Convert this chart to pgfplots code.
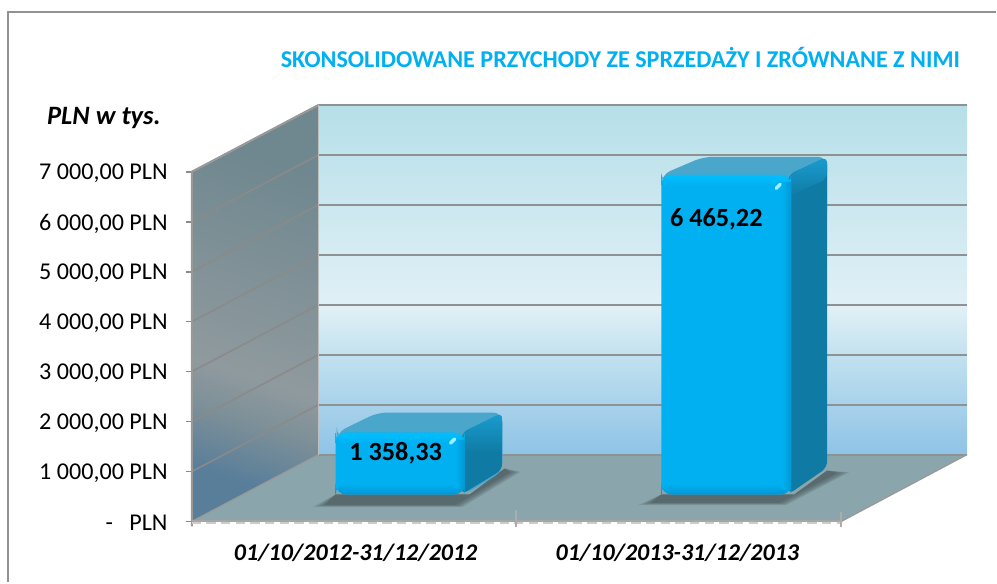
\documentclass[border=0pt]{standalone}
\usepackage{pgfplots}
\usepackage{fontspec}
\setmainfont{Carlito}
\pgfplotsset{compat=1.18}
\definecolor{bwa}{HTML}{B6DFE9}
\definecolor{bwb}{HTML}{E0F0F6}
\definecolor{bwb2}{HTML}{D8ECF3}
\definecolor{bwc}{HTML}{BBDDEE}
\definecolor{bwd}{HTML}{8FC3E6}
\definecolor{swa}{HTML}{6F878F}
\definecolor{swb}{HTML}{8F9A9E}
\definecolor{swc}{HTML}{7E9098}
\definecolor{swd}{HTML}{587E9A}
\definecolor{floorc}{HTML}{8AA6AC}
\definecolor{gridc}{HTML}{8E9292}
\definecolor{wallgrid}{HTML}{8A8A8A}
\definecolor{framec}{HTML}{929292}
\definecolor{barfront}{HTML}{00B0F0}
\definecolor{barhi}{HTML}{00C0FF}
\definecolor{barlo}{HTML}{0096D6}
\definecolor{barright}{HTML}{0098D4}
\definecolor{bartop}{HTML}{4BA6CB}
\definecolor{barside}{HTML}{0F7AA3}
\definecolor{barsideL}{HTML}{1A9DD0}
\definecolor{titlec}{HTML}{00B0F0}
\definecolor{spot}{HTML}{A0F0FF}
\pgfdeclareverticalshading{backwall}{100bp}{
 color(0bp)=(bwd); color(25bp)=(bwd); color(37.5bp)=(bwc); color(46bp)=(bwb); color(52.5bp)=(bwb2); color(75bp)=(bwa); color(100bp)=(bwa)}
\pgfdeclareverticalshading{sidewall}{100bp}{
 color(0bp)=(swd); color(26bp)=(swd); color(35bp)=(swc); color(41bp)=(swb); color(72bp)=(swa); color(100bp)=(swa)}
% vertical axis: value = (522 - pixel row) * 20
\begin{document}
\begin{tikzpicture}[x=0.75pt,y=0.75pt]
\path (0,0) rectangle (997,583);
\draw[color=framec,line width=1.5pt] (8,0) -- (8,571) -- (997,571);
\begin{axis}[
  at={(144pt,45.75pt)}, anchor=south west,
  scale only axis, width=487.5pt, height=262.5pt,
  xmin=192, xmax=842, ymin=0, ymax=7000,
  clip=false, axis line style={draw=none},
  xtick=\empty,
  ytick={0,1000,2000,3000,4000,5000,6000,7000},
  yticklabels={{-\ \ \ PLN},{1 000,00 PLN},{2 000,00 PLN},{3 000,00 PLN},{4 000,00 PLN},{5 000,00 PLN},{6 000,00 PLN},{7 000,00 PLN}},
  major tick length=0pt,
  yticklabel style={font=\fontsize{18.1pt}{20pt}\selectfont, inner xsep=0pt, xshift=-18pt, yshift=-1.3pt},
]
% floor
\addplot[draw=none,fill=floorc] coordinates {(192,0)(842,0)(968,1340)(319,1340)} -- cycle;
% back wall
\addplot[draw=none,shading=backwall] coordinates {(319,1340)(968,1340)(968,8340)(319,8340)} -- cycle;
% left wall
\addplot[draw=none,shading=sidewall,shading angle=-18] coordinates {(192,0)(319,1340)(319,8340)(192,7000)} -- cycle;
% grid on back wall and side wall
\pgfplotsinvokeforeach{1340,2340,3340,4340,5340,6340,7340,8340}{
  \addplot[gridc,line width=1.5pt,forget plot] coordinates {(319,#1)(968,#1)};
}
\pgfplotsinvokeforeach{1000,2000,3000,4000,5000,6000,7000}{
  \addplot[wallgrid,line width=1.2pt,forget plot] coordinates {(192,#1)(319,#1+1340)};
}
\pgfplotsinvokeforeach{0,1000,2000,3000,4000,5000,6000,7000}{
  \addplot[wallgrid,line width=1.2pt,forget plot] coordinates {(186,#1)(192,#1)};
}
\addplot[color=gray!80,line width=1pt] coordinates {(842,0)(968,1340)};
\addplot[color=gray!80,line width=1pt] coordinates {(192,0)(319,1340)};
\addplot[color=gray!80,line width=1.5pt] coordinates {(319,8340)(192,7000)(192,-100)};
\addplot[color=gray!50,line width=1pt] coordinates {(319,1340)(319,8340)};
\addplot[color=gray!70,line width=1.5pt] coordinates {(192,0)(842,0)};
\addplot[color=gray!40,line width=1pt,dash pattern=on 7pt off 4pt] coordinates {(192,-30)(842,-30)};
\addplot[color=gray!65,line width=1.5pt] coordinates {(517,-120)(517,220)};
\addplot[color=gray!65,line width=1.5pt] coordinates {(842,-120)(842,180)};
% bar 1
\addplot[draw=none,fill=black,fill opacity=.10] coordinates {(313,290)(336,540)(470,540)(505,1060)(521,995)(463,290)} -- cycle;
\addplot[draw=none,fill=black,fill opacity=.10] coordinates {(317,300)(336,540)(470,540)(505,1060)(518,990)(461,300)} -- cycle;
\addplot[draw=none,fill=black,fill opacity=.10] coordinates {(321,315)(336,540)(470,540)(505,1060)(515,990)(459,315)} -- cycle;
\addplot[draw=none,fill=black,fill opacity=.10] coordinates {(325,330)(336,540)(470,540)(505,1060)(511,985)(456,330)} -- cycle;
\addplot[draw=none,fill=bartop,rounded corners=7pt] coordinates {(337,1780)(378,2180)(503,2180)(503,1000)(465,540)(337,1700)} -- cycle;
\addplot[draw=none,top color=barsideL,bottom color=barside,middle color=barside,rounded corners=5pt] coordinates {(462,540)(503,1040)(503,2180)(462,1780)} -- cycle;
\addplot[draw=none,fill=barfront,rounded corners=8pt] coordinates {(336,540)(465,540)(465,1780)(336,1780)} -- cycle;
\addplot[draw=none,top color=barhi,bottom color=barfront,rounded corners=8pt] coordinates {(336,1560)(465,1560)(465,1780)(336,1780)} -- cycle;
\addplot[draw=none,top color=barfront,bottom color=barlo,rounded corners=8pt] coordinates {(336,540)(465,540)(465,760)(336,760)} -- cycle;
\addplot[draw=none,left color=barfront,right color=barright] coordinates {(456,660)(465,660)(465,1620)(456,1620)} -- cycle;
\addplot[spot,line width=2.6pt,line cap=round] coordinates {(451,1570)(455,1650)};
% bar 2
\addplot[draw=none,fill=black,fill opacity=.10] coordinates {(639,330)(662,540)(795,540)(828,1020)(850,985)(787,330)} -- cycle;
\addplot[draw=none,fill=black,fill opacity=.10] coordinates {(643,340)(662,540)(795,540)(828,1020)(847,980)(785,340)} -- cycle;
\addplot[draw=none,fill=black,fill opacity=.10] coordinates {(647,355)(662,540)(795,540)(828,1020)(843,975)(783,355)} -- cycle;
\addplot[draw=none,fill=black,fill opacity=.10] coordinates {(651,370)(662,540)(795,540)(828,1020)(838,970)(780,370)} -- cycle;
\addplot[draw=none,fill=bartop,rounded corners=7pt] coordinates {(662,6940)(704,7300)(828,7300)(828,6000)(790,6000)(662,6800)} -- cycle;
\addplot[draw=none,fill=barside,rounded corners=5pt] coordinates {(789,540)(828,1080)(828,7300)(789,6940)} -- cycle;
\addplot[draw=none,top color=barsideL,bottom color=barside,rounded corners=5pt] coordinates {(789,6500)(789,6940)(828,7300)(828,6860)} -- cycle;
\addplot[draw=none,fill=barfront,rounded corners=8pt] coordinates {(662,540)(792,540)(792,6940)(662,6940)} -- cycle;
\addplot[draw=none,top color=barhi,bottom color=barfront,rounded corners=8pt] coordinates {(662,6720)(792,6720)(792,6940)(662,6940)} -- cycle;
\addplot[draw=none,top color=barfront,bottom color=barlo,rounded corners=8pt] coordinates {(662,540)(792,540)(792,760)(662,760)} -- cycle;
\addplot[draw=none,left color=barfront,right color=barright] coordinates {(783,660)(792,660)(792,6780)(783,6780)} -- cycle;
\addplot[spot,line width=2.6pt,line cap=round] coordinates {(777,6670)(781,6750)};
% value labels
\addplot[only marks,mark=none,nodes near coords,
  nodes near coords style={font=\bfseries\fontsize{19.7pt}{22pt}\selectfont,anchor=center,text=black},
  point meta=explicit symbolic] coordinates {(396,1360)[1 358,33]};
\addplot[only marks,mark=none,nodes near coords,
  nodes near coords style={font=\bfseries\fontsize{19.7pt}{22pt}\selectfont,anchor=center,text=black},
  point meta=explicit symbolic] coordinates {(717,6040)[6 465,22]};
% category labels
\addplot[only marks,mark=none,nodes near coords,
  nodes near coords style={font=\bfseries\itshape\fontsize{18pt}{20pt}\selectfont,anchor=center,text=black},
  point meta=explicit symbolic] coordinates {(356,-620)[01/10/2012-31/12/2012] (678,-620)[01/10/2013-31/12/2013]};
% titles
\addplot[only marks,mark=none,nodes near coords,
  nodes near coords style={font=\bfseries\fontsize{18.1pt}{20pt}\selectfont,anchor=center,text=titlec},
  point meta=explicit symbolic] coordinates {(621,9280)[SKONSOLIDOWANE PRZYCHODY ZE SPRZEDAŻY I ZRÓWNANE Z NIMI]};
\addplot[only marks,mark=none,nodes near coords,
  nodes near coords style={font=\bfseries\itshape\fontsize{19.9pt}{22pt}\selectfont,anchor=center,text=black},
  point meta=explicit symbolic] coordinates {(104,8080)[PLN w tys.]};
\end{axis}
\end{tikzpicture}
\end{document}
